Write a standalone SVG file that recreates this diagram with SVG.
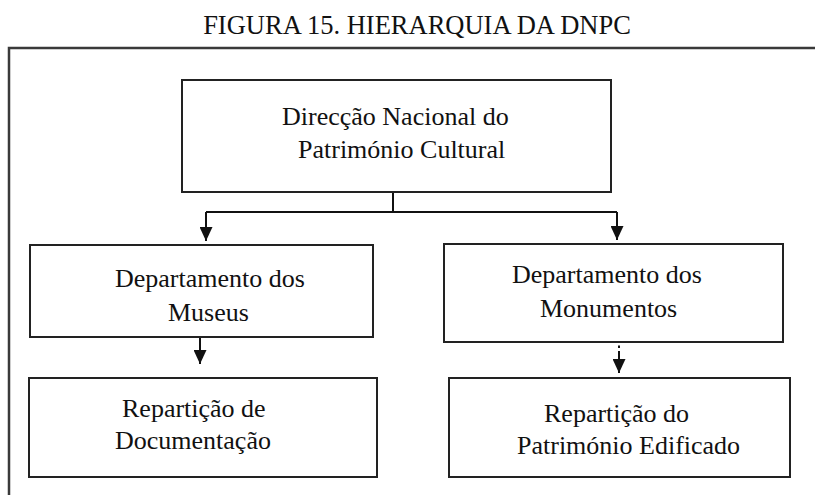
<svg xmlns="http://www.w3.org/2000/svg" width="815" height="495" viewBox="0 0 815 495">
  <style>
    .box { fill: #ffffff; stroke: #222222; stroke-width: 2; }
    .t { font-family: "Liberation Serif", "Times New Roman", serif; font-size: 26px; fill: #111111; }
    .title { font-size: 26.5px; }
    .c { fill: none; stroke: #111111; stroke-width: 2; }
    .frame { fill: none; stroke: #3a3a3a; stroke-width: 2.5; }
  </style>
  <defs>
    <marker id="ah" markerUnits="userSpaceOnUse" markerWidth="14" markerHeight="13" refX="14" refY="6.5" orient="auto" viewBox="0 0 14 13">
      <path d="M0,0 L14,6.5 L0,13 Z" fill="#111111"/>
    </marker>
  </defs>
  <rect width="815" height="495" fill="#ffffff"/>
  <text class="t title" x="417" y="34" text-anchor="middle">FIGURA 15. HIERARQUIA DA DNPC</text>
  <path class="frame" d="M816,48 L9,48 L9,496"/>

  <g id="connectors">
    <path class="c" d="M393,192 L393,212"/>
    <path class="c" d="M206,212 L617,212"/>
    <path class="c" d="M206,212 L206,241" marker-end="url(#ah)"/>
    <path class="c" d="M617,212 L617,240" marker-end="url(#ah)"/>
    <path class="c" d="M200,337 L200,364" marker-end="url(#ah)"/>
    <path class="c" d="M619,345.5 L619,348"/>
    <path class="c" d="M619,351 L619,373" marker-end="url(#ah)"/>
  </g>

  <g id="node-dnpc">
    <rect class="box" x="182" y="80" width="429" height="112"/>
    <text class="t" x="282" y="125">Direcção Nacional do</text>
    <text class="t" x="298" y="158">Património Cultural</text>
  </g>
  <g id="node-museus">
    <rect class="box" x="30" y="245" width="343" height="92"/>
    <text class="t" x="115" y="287">Departamento dos</text>
    <text class="t" x="168" y="321">Museus</text>
  </g>
  <g id="node-monumentos">
    <rect class="box" x="444" y="244" width="339" height="98"/>
    <text class="t" x="512" y="283">Departamento dos</text>
    <text class="t" x="540" y="317">Monumentos</text>
  </g>
  <g id="node-documentacao">
    <rect class="box" x="29" y="378" width="348" height="99"/>
    <text class="t" x="122" y="417">Repartição de</text>
    <text class="t" x="115" y="449">Documentação</text>
  </g>
  <g id="node-edificado">
    <rect class="box" x="449" y="378" width="341" height="99"/>
    <text class="t" x="544" y="422">Repartição do</text>
    <text class="t" x="517" y="454">Património Edificado</text>
  </g>
</svg>
